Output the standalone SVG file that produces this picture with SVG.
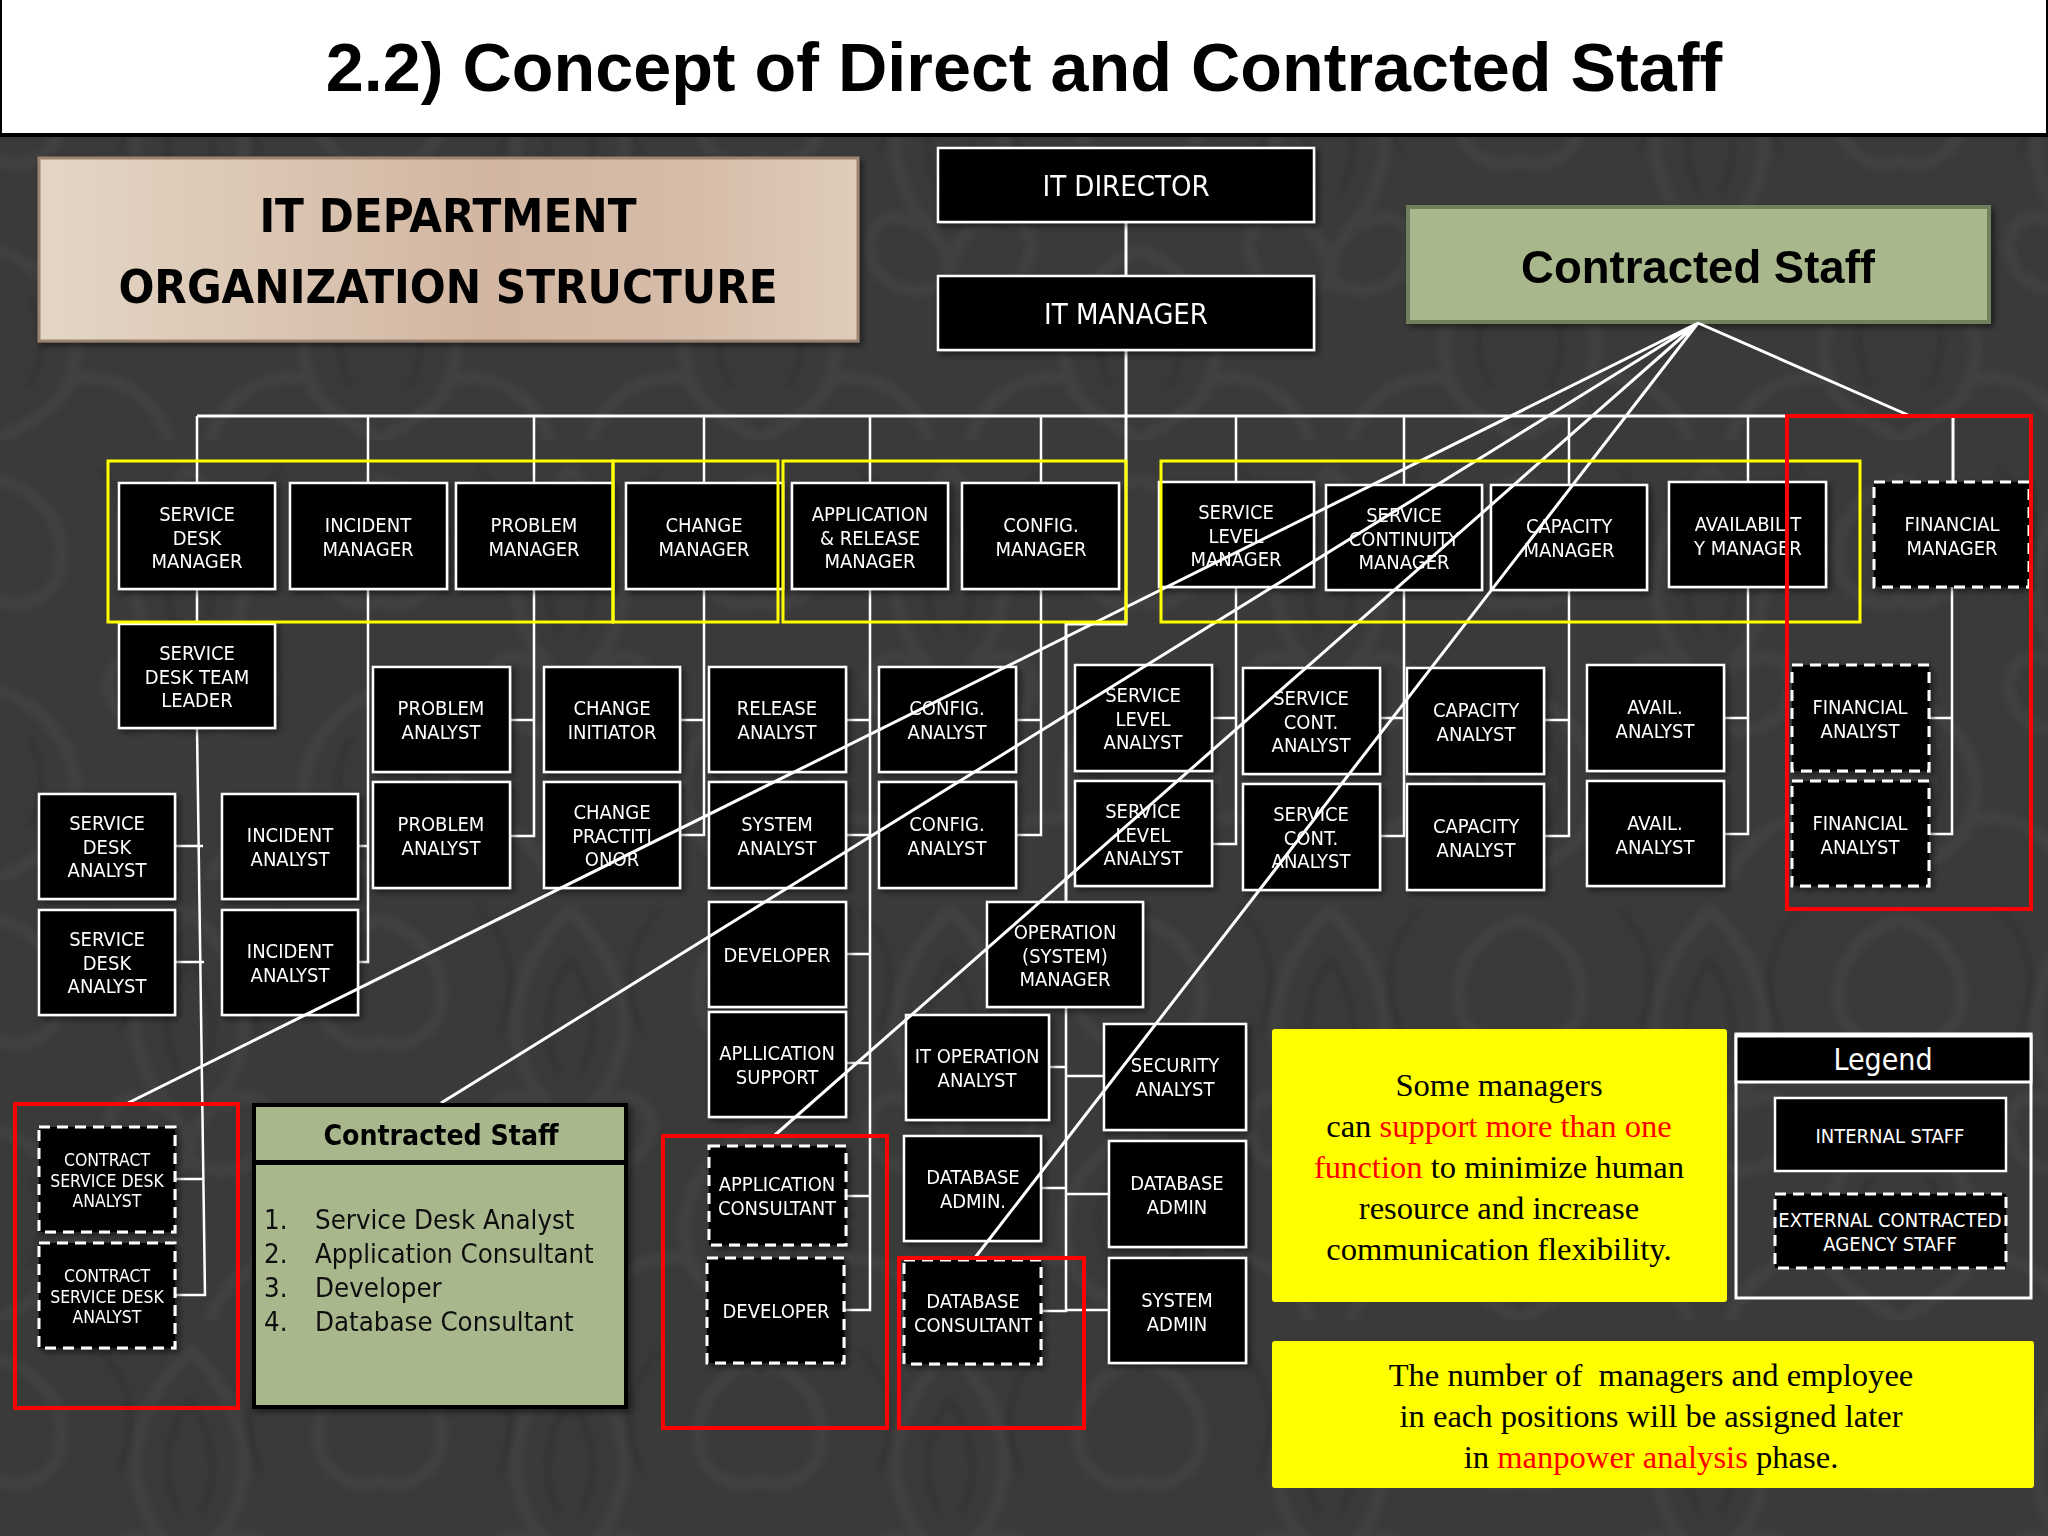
<svg xmlns="http://www.w3.org/2000/svg" width="2048" height="1536" viewBox="0 0 2048 1536">
<style>
text{font-family:"DejaVu Sans","Noto Sans",sans-serif;font-stretch:condensed}
.b{fill:#000;stroke:#fff;stroke-width:2.5}
.d{fill:#000;stroke:#fff;stroke-width:3;stroke-dasharray:11 7}
.t{fill:#fff;font-size:20px;text-anchor:middle}
.s{fill:#fff;font-size:17.5px;text-anchor:middle}
.l{fill:none;stroke:#fff;stroke-width:2.5}
.c{fill:none;stroke:#fff;stroke-width:3}
.y{fill:none;stroke:#ff0;stroke-width:3}
.r{fill:none;stroke:#f00;stroke-width:4}
.h{font-weight:bold;font-size:47px;text-anchor:middle;fill:#000}
.ser{font-family:"Liberation Serif",serif;font-stretch:normal;font-size:32.6px;text-anchor:middle;fill:#000;white-space:pre}
.red{fill:#f00}
.lst{font-size:27.4px;fill:#111}
.sw{fill:none;stroke:#404040}
.sk{fill:none;stroke:#363636}
</style>
<defs>
<linearGradient id="tan" x1="0" x2="1" y1="0" y2="0"><stop offset="0" stop-color="#e4d6c6"/><stop offset=".3" stop-color="#dac5b2"/><stop offset=".55" stop-color="#d2b6a1"/><stop offset=".8" stop-color="#d6bda9"/><stop offset="1" stop-color="#dfccbb"/></linearGradient>
<filter id="soft"><feGaussianBlur stdDeviation="2.5"/></filter>
<pattern id="dam" width="380" height="440" patternUnits="userSpaceOnUse">
<rect width="380" height="440" fill="#3a3a3a"/>
<g filter="url(#soft)">
<g class="sw" stroke-width="13" stroke-linecap="round">
<path d="M190 30c-50 50-70 110-40 170c15 30 40 40 40 80M190 30c50 50 70 110 40 170c-15 30-40 40-40 80"/>
<path d="M190 280c-30 20-70 10-80-25c-8-30 25-50 45-30M190 280c30 20 70 10 80-25c8-30-25-50-45-30"/>
<path d="M0 250c50 20 90 70 70 130c-10 30-40 40-70 60M380 250c-50 20-90 70-70 130c10 30 40 40 70 60"/>
<path d="M70 380c40-10 80 10 100 60M310 380c-40-10-80 10-100 60"/>
<path d="M0 40c40 10 70 50 60 90c-8 30-40 40-60 30M380 40c-40 10-70 50-60 90c8 30 40 40 60 30"/>
</g>
<g class="sk" stroke-width="8" stroke-linecap="round">
<path d="M190 80c-25 35-30 75-12 110M190 80c25 35 30 75 12 110"/>
<path d="M30 300c15 25 15 55 0 85M350 300c-15 25-15 55 0 85"/>
<path d="M100 30c30 30 40 70 20 120M280 30c-30 30-40 70-20 120"/>
</g>
</g>
</pattern>
<filter id="sh" x="-10%" y="-10%" width="125%" height="125%"><feDropShadow dx="3" dy="3" stdDeviation="3" flood-color="#000" flood-opacity=".5"/></filter>
</defs>
<rect width="2048" height="1536" fill="url(#dam)"/>
<g id="title"><rect x="0" y="-4" width="2048" height="139" fill="#fff" stroke="#000" stroke-width="4"/>
<text x="1024" y="91" style='font-family:"Liberation Sans",Arial,sans-serif;font-stretch:normal;font-weight:bold;font-size:68.3px;text-anchor:middle;fill:#000'>2.2) Concept of Direct and Contracted Staff</text></g>
<g id="dept-panel" filter="url(#sh)"><rect x="39" y="158" width="819" height="183" fill="url(#tan)" stroke="#9c8470" stroke-width="3"/>
<text class="h" x="448" y="232">IT DEPARTMENT</text><text class="h" x="448" y="303">ORGANIZATION STRUCTURE</text></g>
<g id="contracted-panel" filter="url(#sh)"><rect x="1408" y="207" width="581" height="115" fill="#a9b88c" stroke="#6f7f5c" stroke-width="4"/>
<text x="1698" y="283" style='font-family:"Liberation Sans",Arial,sans-serif;font-stretch:normal;font-weight:bold;font-size:45.5px;text-anchor:middle;fill:#000'>Contracted Staff</text></g>

<g id="connectors">
<path class="c" d="M1126 222V276M1126 350V624H1066V902M197 416H1953V481"/>
<path class="l" d="M197 416V483M368 416V483M534 416V483M704 416V483M870 416V483M1041 416V483M1236 416V481M1404 416V484M1569 416V484M1748 416V481"/>
<path class="l" d="M197 589V624M197 728L205 1295H175M175 1179H204M175 846H203M175 962H204"/>
<path class="l" d="M368 589V962H358M358 846H368"/>
<path class="l" d="M534 589V836H510M510 720H534"/>
<path class="l" d="M704 589V835H680M680 720H704"/>
<path class="l" d="M870 589V1310H844M846 720H870M846 835H870M846 954H870M846 1063H870M846 1196H870"/>
<path class="l" d="M1041 589V835H1016M1016 720H1041"/>
<path class="l" d="M1236 587V844H1212M1212 718H1236"/>
<path class="l" d="M1404 590V836H1380M1380 718H1404"/>
<path class="l" d="M1569 590V836H1544M1544 720H1569"/>
<path class="l" d="M1748 587V834H1724M1724 718H1748"/>
<path class="l" d="M1952 587V834H1929M1929 718H1952"/>
<path class="l" d="M1041 1311H1066V1007M1049 1067H1066M1066 1076H1104M1041 1188H1066M1066 1194H1109M1066 1310H1109"/>
</g>

<g id="nodes" filter="url(#sh)">
<g id="it-director"><rect class="b" x="938" y="148" width="376" height="74"/><text class="t" style="font-size:29px" x="1126" y="196">IT DIRECTOR</text></g>
<g id="it-manager"><rect class="b" x="938" y="276" width="376" height="74"/><text class="t" style="font-size:29px" x="1126" y="324">IT MANAGER</text></g>

<g id="sd-manager"><rect class="b" x="119" y="483" width="156" height="106"/><text class="t" x="197" y="521">SERVICE<tspan x="197" dy="23.5">DESK</tspan><tspan x="197" dy="23.5">MANAGER</tspan></text></g>
<g id="inc-manager"><rect class="b" x="290" y="483" width="157" height="106"/><text class="t" x="368" y="532">INCIDENT<tspan x="368" dy="23.5">MANAGER</tspan></text></g>
<g id="prob-manager"><rect class="b" x="456" y="483" width="157" height="106"/><text class="t" x="534" y="532">PROBLEM<tspan x="534" dy="23.5">MANAGER</tspan></text></g>
<g id="change-manager"><rect class="b" x="626" y="483" width="157" height="106"/><text class="t" x="704" y="532">CHANGE<tspan x="704" dy="23.5">MANAGER</tspan></text></g>
<g id="app-manager"><rect class="b" x="792" y="483" width="156" height="106"/><text class="t" x="870" y="521">APPLICATION<tspan x="870" dy="23.5">&amp; RELEASE</tspan><tspan x="870" dy="23.5">MANAGER</tspan></text></g>
<g id="config-manager"><rect class="b" x="962" y="483" width="157" height="106"/><text class="t" x="1041" y="532">CONFIG.<tspan x="1041" dy="23.5">MANAGER</tspan></text></g>
<g id="sl-manager"><rect class="b" x="1159" y="482" width="155" height="105"/><text class="t" x="1236" y="519">SERVICE<tspan x="1236" dy="23.5">LEVEL</tspan><tspan x="1236" dy="23.5">MANAGER</tspan></text></g>
<g id="cont-manager"><rect class="b" x="1326" y="485" width="156" height="105"/><text class="t" x="1404" y="522">SERVICE<tspan x="1404" dy="23.5">CONTINUITY</tspan><tspan x="1404" dy="23.5">MANAGER</tspan></text></g>
<g id="cap-manager"><rect class="b" x="1491" y="485" width="156" height="105"/><text class="t" x="1569" y="533">CAPACITY<tspan x="1569" dy="23.5">MANAGER</tspan></text></g>
<g id="avail-manager"><rect class="b" x="1669" y="482" width="157" height="105"/><text class="t" x="1748" y="531">AVAILABILIT<tspan x="1748" dy="23.5">Y MANAGER</tspan></text></g>
<g id="fin-manager"><rect class="d" x="1874" y="482" width="155" height="105"/><text class="t" x="1952" y="531">FINANCIAL<tspan x="1952" dy="23.5">MANAGER</tspan></text></g>

<g id="sd-team-leader"><rect class="b" x="119" y="624" width="156" height="104"/><text class="t" x="197" y="660">SERVICE<tspan x="197" dy="23.5">DESK TEAM</tspan><tspan x="197" dy="23.5">LEADER</tspan></text></g>

<g id="prob-analyst-1"><rect class="b" x="373" y="667" width="137" height="105"/><text class="t" x="441" y="715">PROBLEM<tspan x="441" dy="23.5">ANALYST</tspan></text></g>
<g id="prob-analyst-2"><rect class="b" x="373" y="782" width="137" height="106"/><text class="t" x="441" y="831">PROBLEM<tspan x="441" dy="23.5">ANALYST</tspan></text></g>
<g id="change-initiator"><rect class="b" x="544" y="667" width="136" height="105"/><text class="t" x="612" y="715">CHANGE<tspan x="612" dy="23.5">INITIATOR</tspan></text></g>
<g id="change-practitioner"><rect class="b" x="544" y="782" width="136" height="106"/><text class="t" x="612" y="819">CHANGE<tspan x="612" dy="23.5">PRACTITI</tspan><tspan x="612" dy="23.5">ONOR</tspan></text></g>
<g id="release-analyst"><rect class="b" x="709" y="667" width="137" height="105"/><text class="t" x="777" y="715">RELEASE<tspan x="777" dy="23.5">ANALYST</tspan></text></g>
<g id="system-analyst"><rect class="b" x="709" y="782" width="137" height="106"/><text class="t" x="777" y="831">SYSTEM<tspan x="777" dy="23.5">ANALYST</tspan></text></g>
<g id="config-analyst-1"><rect class="b" x="879" y="667" width="137" height="105"/><text class="t" x="947" y="715">CONFIG.<tspan x="947" dy="23.5">ANALYST</tspan></text></g>
<g id="config-analyst-2"><rect class="b" x="879" y="782" width="137" height="106"/><text class="t" x="947" y="831">CONFIG.<tspan x="947" dy="23.5">ANALYST</tspan></text></g>
<g id="sl-analyst-1"><rect class="b" x="1075" y="665" width="137" height="106"/><text class="t" x="1143" y="702">SERVICE<tspan x="1143" dy="23.5">LEVEL</tspan><tspan x="1143" dy="23.5">ANALYST</tspan></text></g>
<g id="sl-analyst-2"><rect class="b" x="1075" y="781" width="137" height="105"/><text class="t" x="1143" y="818">SERVICE<tspan x="1143" dy="23.5">LEVEL</tspan><tspan x="1143" dy="23.5">ANALYST</tspan></text></g>
<g id="cont-analyst-1"><rect class="b" x="1243" y="668" width="137" height="106"/><text class="t" x="1311" y="705">SERVICE<tspan x="1311" dy="23.5">CONT.</tspan><tspan x="1311" dy="23.5">ANALYST</tspan></text></g>
<g id="cont-analyst-2"><rect class="b" x="1243" y="784" width="137" height="106"/><text class="t" x="1311" y="821">SERVICE<tspan x="1311" dy="23.5">CONT.</tspan><tspan x="1311" dy="23.5">ANALYST</tspan></text></g>
<g id="cap-analyst-1"><rect class="b" x="1407" y="668" width="137" height="106"/><text class="t" x="1476" y="717">CAPACITY<tspan x="1476" dy="23.5">ANALYST</tspan></text></g>
<g id="cap-analyst-2"><rect class="b" x="1407" y="784" width="137" height="106"/><text class="t" x="1476" y="833">CAPACITY<tspan x="1476" dy="23.5">ANALYST</tspan></text></g>
<g id="avail-analyst-1"><rect class="b" x="1587" y="665" width="137" height="106"/><text class="t" x="1655" y="714">AVAIL.<tspan x="1655" dy="23.5">ANALYST</tspan></text></g>
<g id="avail-analyst-2"><rect class="b" x="1587" y="781" width="137" height="105"/><text class="t" x="1655" y="830">AVAIL.<tspan x="1655" dy="23.5">ANALYST</tspan></text></g>
<g id="fin-analyst-1"><rect class="d" x="1792" y="665" width="137" height="106"/><text class="t" x="1860" y="714">FINANCIAL<tspan x="1860" dy="23.5">ANALYST</tspan></text></g>
<g id="fin-analyst-2"><rect class="d" x="1792" y="781" width="137" height="105"/><text class="t" x="1860" y="830">FINANCIAL<tspan x="1860" dy="23.5">ANALYST</tspan></text></g>

<g id="sd-analyst-1"><rect class="b" x="39" y="794" width="136" height="105"/><text class="t" x="107" y="830">SERVICE<tspan x="107" dy="23.5">DESK</tspan><tspan x="107" dy="23.5">ANALYST</tspan></text></g>
<g id="sd-analyst-2"><rect class="b" x="39" y="910" width="136" height="105"/><text class="t" x="107" y="946">SERVICE<tspan x="107" dy="23.5">DESK</tspan><tspan x="107" dy="23.5">ANALYST</tspan></text></g>
<g id="inc-analyst-1"><rect class="b" x="222" y="794" width="136" height="105"/><text class="t" x="290" y="842">INCIDENT<tspan x="290" dy="23.5">ANALYST</tspan></text></g>
<g id="inc-analyst-2"><rect class="b" x="222" y="910" width="136" height="105"/><text class="t" x="290" y="958">INCIDENT<tspan x="290" dy="23.5">ANALYST</tspan></text></g>
<g id="csd-analyst-1"><rect class="d" x="39" y="1127" width="136" height="105"/><text class="s" x="107" y="1166">CONTRACT<tspan x="107" dy="20.5">SERVICE DESK</tspan><tspan x="107" dy="20.5">ANALYST</tspan></text></g>
<g id="csd-analyst-2"><rect class="d" x="39" y="1243" width="136" height="105"/><text class="s" x="107" y="1282">CONTRACT<tspan x="107" dy="20.5">SERVICE DESK</tspan><tspan x="107" dy="20.5">ANALYST</tspan></text></g>

<g id="developer-1"><rect class="b" x="709" y="902" width="137" height="105"/><text class="t" x="777" y="962">DEVELOPER</text></g>
<g id="app-support"><rect class="b" x="709" y="1012" width="137" height="105"/><text class="t" x="777" y="1060">APLLICATION<tspan x="777" dy="23.5">SUPPORT</tspan></text></g>
<g id="app-consultant"><rect class="d" x="709" y="1146" width="137" height="99"/><text class="t" x="777" y="1191">APPLICATION<tspan x="777" dy="23.5">CONSULTANT</tspan></text></g>
<g id="developer-2"><rect class="d" x="707" y="1258" width="137" height="105"/><text class="t" x="776" y="1318">DEVELOPER</text></g>
<g id="op-manager"><rect class="b" x="987" y="902" width="156" height="105"/><text class="t" x="1065" y="939">OPERATION<tspan x="1065" dy="23.5">(SYSTEM)</tspan><tspan x="1065" dy="23.5">MANAGER</tspan></text></g>
<g id="it-op-analyst"><rect class="b" x="906" y="1015" width="143" height="105"/><text class="t" x="977" y="1063">IT OPERATION<tspan x="977" dy="23.5">ANALYST</tspan></text></g>
<g id="security-analyst"><rect class="b" x="1104" y="1024" width="142" height="106"/><text class="t" x="1175" y="1072">SECURITY<tspan x="1175" dy="23.5">ANALYST</tspan></text></g>
<g id="db-admin-1"><rect class="b" x="904" y="1136" width="137" height="105"/><text class="t" x="973" y="1184">DATABASE<tspan x="973" dy="23.5">ADMIN.</tspan></text></g>
<g id="db-admin-2"><rect class="b" x="1109" y="1141" width="137" height="106"/><text class="t" x="1177" y="1190">DATABASE<tspan x="1177" dy="23.5">ADMIN</tspan></text></g>
<g id="db-consultant"><rect class="d" x="904" y="1260" width="137" height="104"/><text class="t" x="973" y="1308">DATABASE<tspan x="973" dy="23.5">CONSULTANT</tspan></text></g>
<g id="system-admin"><rect class="b" x="1109" y="1258" width="137" height="105"/><text class="t" x="1177" y="1307">SYSTEM<tspan x="1177" dy="23.5">ADMIN</tspan></text></g>
</g>

<g id="contract-links">
<path class="c" d="M1698 323L128 1103M1698 323L441 1103M1698 323L775 1135M1698 323L974 1259M1698 323L1908 415"/>
</g>

<g id="frames">
<rect class="y" x="108" y="461" width="505" height="161"/>
<rect class="y" x="613" y="461" width="165" height="161"/>
<rect class="y" x="783" y="461" width="343" height="161"/>
<rect class="y" x="1161" y="461" width="699" height="161"/>
<rect class="r" x="1787" y="416" width="244" height="493"/>
<rect class="r" x="15" y="1104" width="223" height="304"/>
<rect class="r" x="663" y="1136" width="224" height="292"/>
<rect class="r" x="899" y="1258" width="185" height="170"/>
</g>

<g id="contracted-list" filter="url(#sh)">
<rect x="254" y="1105" width="372" height="57" fill="#a9b88c" stroke="#000" stroke-width="4"/>
<rect x="254" y="1163" width="372" height="244" fill="#a9b88c" stroke="#000" stroke-width="4"/>
<text x="441" y="1145" style="font-weight:bold;font-size:28.2px;text-anchor:middle;fill:#000">Contracted Staff</text>
<text class="lst" x="264" y="1229">1.</text><text class="lst" x="315" y="1229">Service Desk Analyst</text>
<text class="lst" x="264" y="1263">2.</text><text class="lst" x="315" y="1263">Application Consultant</text>
<text class="lst" x="264" y="1297">3.</text><text class="lst" x="315" y="1297">Developer</text>
<text class="lst" x="264" y="1331">4.</text><text class="lst" x="315" y="1331">Database Consultant</text>
</g>

<g id="note-1"><rect x="1272" y="1029" width="455" height="273" rx="3" fill="#ff0"/>
<text class="ser" x="1499" y="1096">Some managers</text>
<text class="ser" x="1499" y="1137">can <tspan class="red">support more than one</tspan></text>
<text class="ser" x="1499" y="1178"><tspan class="red">function</tspan> to minimize human</text>
<text class="ser" x="1499" y="1219">resource and increase</text>
<text class="ser" x="1499" y="1260">communication flexibility.</text></g>
<g id="note-2"><rect x="1272" y="1341" width="762" height="147" rx="3" fill="#ff0"/>
<text class="ser" x="1651" y="1386">The number of  managers and employee</text>
<text class="ser" x="1651" y="1427">in each positions will be assigned later</text>
<text class="ser" x="1651" y="1468">in <tspan class="red">manpower analysis</tspan> phase.</text></g>

<g id="legend"><rect x="1736" y="1034" width="295" height="264" fill="none" stroke="#fff" stroke-width="3"/>
<rect x="1736" y="1036" width="295" height="46" fill="#000" stroke="#fff" stroke-width="3"/>
<text x="1883" y="1070" style="font-size:30px;fill:#fff;text-anchor:middle">Legend</text>
<rect class="b" x="1775" y="1098" width="231" height="73"/><text class="t" x="1890" y="1143">INTERNAL STAFF</text>
<rect class="d" x="1775" y="1194" width="231" height="74"/><text class="t" x="1890" y="1227">EXTERNAL CONTRACTED<tspan x="1890" dy="23.5">AGENCY STAFF</tspan></text></g>
</svg>
